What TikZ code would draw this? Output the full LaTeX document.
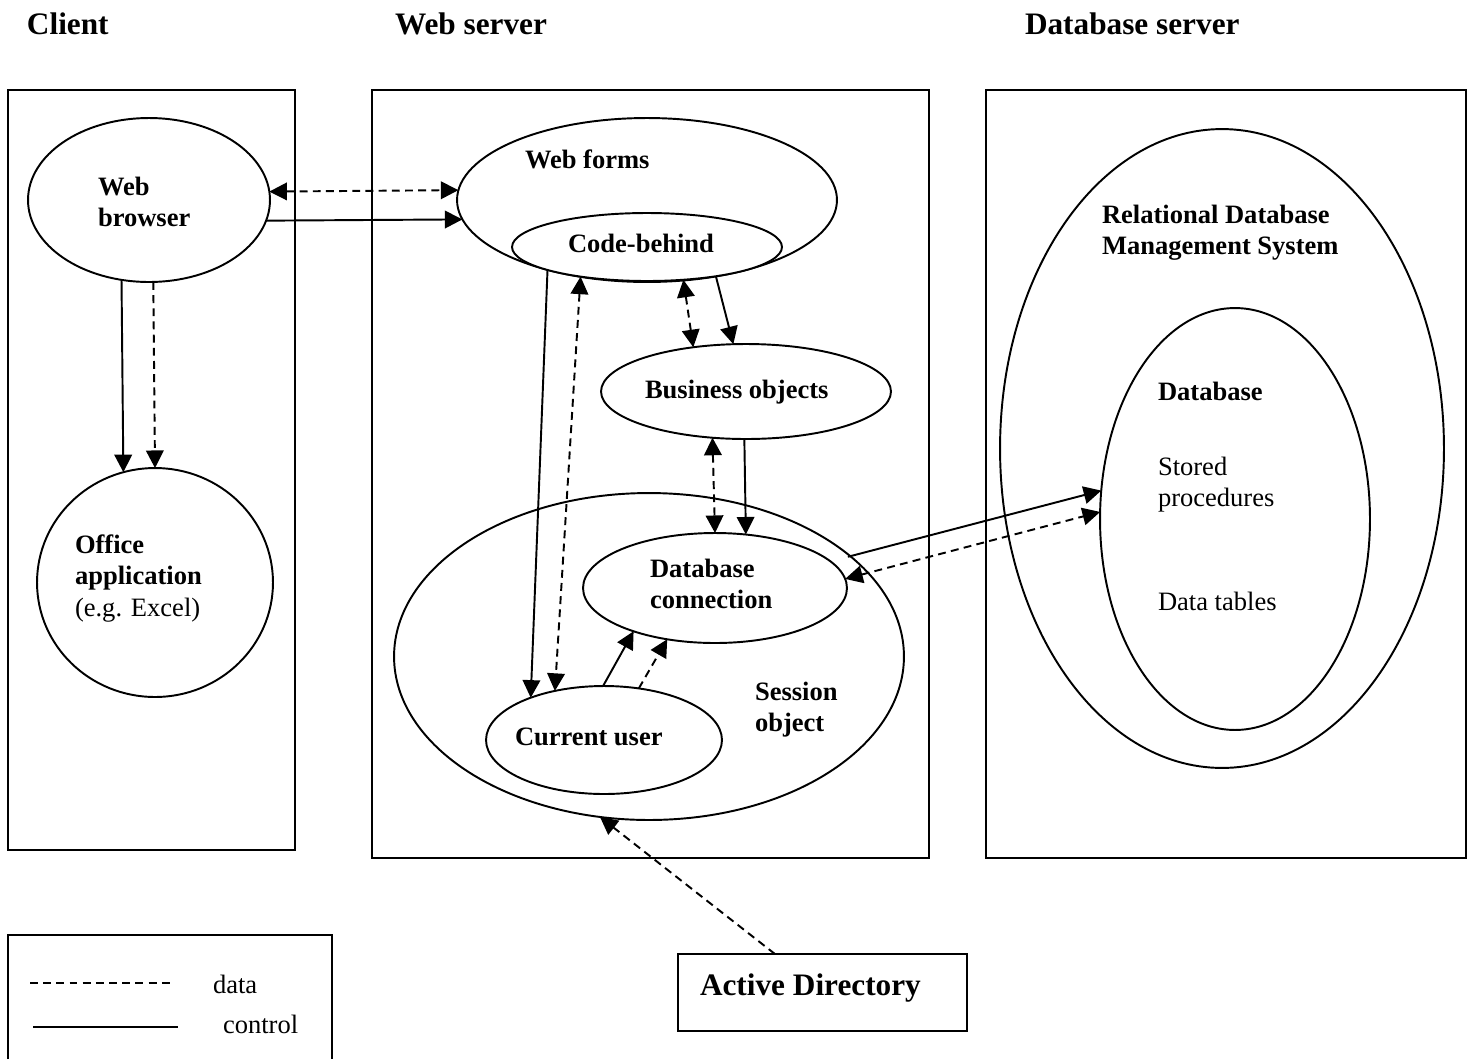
\documentclass[tikz,border=0pt]{standalone}
\usepackage{fontspec}
\setmainfont{Liberation Serif}
\usetikzlibrary{shapes.geometric, arrows.meta, calc}

\newcommand\bodyfont{\fontsize{15.1}{18.1}\selectfont}
\newcommand\headfont{\fontsize{17.8}{21}\selectfont\bfseries}
\newcommand\stackl[1]{\begin{tabular}[t]{@{}l@{}}#1\end{tabular}}

\tikzset{
  tier/.style={draw, rectangle, line width=1.6pt, inner sep=0pt, outer sep=0pt},
  ell/.style={ellipse, draw, line width=1.1pt, inner sep=0pt, outer sep=0pt},
  lbl/.style={anchor=base west, inner sep=0pt, outer sep=0pt, font=\bodyfont\bfseries},
  plaintxt/.style={anchor=base west, inner sep=0pt, outer sep=0pt, font=\bodyfont},
  head/.style={anchor=base west, inner sep=0pt, outer sep=0pt, font=\headfont},
  ctrlfl/.style={line width=1.1pt, -{Triangle[length=10pt,width=10pt]}},
  datafl/.style={line width=1.1pt, dash pattern=on 4.5pt off 3pt, -{Triangle[length=10pt,width=10pt]}},
  databoth/.style={line width=1.1pt, dash pattern=on 4.5pt off 3pt,
    {Triangle[length=10pt,width=10pt]}-{Triangle[length=10pt,width=10pt]}},
}

\begin{document}
\begin{tikzpicture}[x=0.02cm, y=-0.02cm]
\useasboundingbox (0,0) rectangle (1473,1059);

% tier headings
\node[head] (hclient) at (27,34) {Client};
\node[head] (hweb) at (395,34) {Web server};
\node[head] (hdb) at (1025,34) {Database server};

% tier boxes
\node[tier, minimum width=5.74cm, minimum height=15.2cm] (clientbox) at (151.5,470) {};
\node[tier, minimum width=11.14cm, minimum height=15.36cm] (webbox) at (650.5,474) {};
\node[tier, minimum width=9.6cm, minimum height=15.36cm] (dbbox) at (1226,474) {};

% client side
\node[ell, minimum width=4.84cm, minimum height=3.28cm] (browser) at (149,200) {};
\node[ell, minimum width=4.72cm, minimum height=4.58cm] (office) at (155,582.5) {};
\node[lbl] (tbrowser) at (98,195) {\stackl{Web\\browser}};
\node[plaintxt] (toffice) at (75,553) {\stackl{\textbf{Office}\\\textbf{application}\\(e.g. Excel)}};

% web server side
\node[ell, minimum width=7.6cm, minimum height=3.28cm] (webforms) at (647,200) {};
\node[ell, fill=white, minimum width=5.4cm, minimum height=1.36cm] (code) at (647,247) {};
\node[ell, minimum width=5.8cm, minimum height=1.9cm] (business) at (746,391.5) {};
\node[ell, minimum width=10.2cm, minimum height=6.54cm] (session) at (649,656.5) {};
\node[ell, minimum width=5.28cm, minimum height=2.2cm] (dbconn) at (715,588) {};
\node[ell, minimum width=4.72cm, minimum height=2.16cm] (user) at (604,740) {};
\node[lbl] (twebforms) at (525,168) {Web forms};
\node[lbl] (tcode) at (568,252) {Code-behind};
\node[lbl] (tbusiness) at (645,398) {Business objects};
\node[lbl] (tdbconn) at (650,577) {\stackl{Database\\connection}};
\node[lbl] (tsession) at (755,700) {\stackl{Session\\object}};
\node[lbl] (tuser) at (515,745) {Current user};

% database server side
\node[ell, minimum width=8.88cm, minimum height=12.78cm] (rdbms) at (1222,448.5) {};
\node[ell, minimum width=5.4cm, minimum height=8.44cm] (db) at (1235,519) {};
\node[lbl] (trdbms) at (1102,223) {\stackl{Relational Database\\Management System}};
\node[lbl] (tdb) at (1158,400) {Database};
\node[plaintxt] (tproc) at (1158,475) {\stackl{Stored\\procedures}};
\node[plaintxt] (ttables) at (1158,610) {Data tables};

% directory service
\node[tier, line width=1.4pt, minimum width=5.78cm, minimum height=1.54cm] (ad) at (822.5,992.5) {};
\node[head] (tad) at (700,995) {Active Directory};

% connectors
\draw[databoth] (browser.4.3) -- (webforms.177.2);
\draw[ctrlfl] (browser.-10.2) -- (webforms.186.7);
\draw[ctrlfl] (browser.251.3) -- (office.106.7);
\draw[datafl] (browser.273.5) -- (office.90.5);
\draw[ctrlfl] (code.193.7) -- (user.150.1);
\draw[databoth] (code.204.8) -- (user.135);
\draw[databoth] (code.318.1) -- (business.140.2);
\draw[ctrlfl] (code.337.8) -- (business.105.4);
\draw[databoth] (business.234.5) -- (dbconn.90.6);
\draw[ctrlfl] (business.268.8) -- (dbconn.60.3);
\draw[ctrlfl] (user.91) -- (dbconn.208.85);
\draw[datafl] (user.56.2) -- (dbconn.227.2);
\draw[ctrlfl, shorten <=0.36cm] (dbconn.13.6) -- (db.168.7);
\draw[databoth] (dbconn.4.1) -- (db.177);
\draw[datafl] (ad.141) -- (session.253.5);

% legend
\draw[line width=1.3pt] (8,1059) -- (8,935) -- (332,935) -- (332,1059);
\draw[line width=1.1pt, dash pattern=on 4.5pt off 3pt] (30,983) -- (173,983);
\draw[line width=1.1pt] (33,1027) -- (178,1027);
\node[plaintxt] (tdata) at (213,993) {data};
\node[plaintxt] (tcontrol) at (223,1033) {control};
\end{tikzpicture}
\end{document}
